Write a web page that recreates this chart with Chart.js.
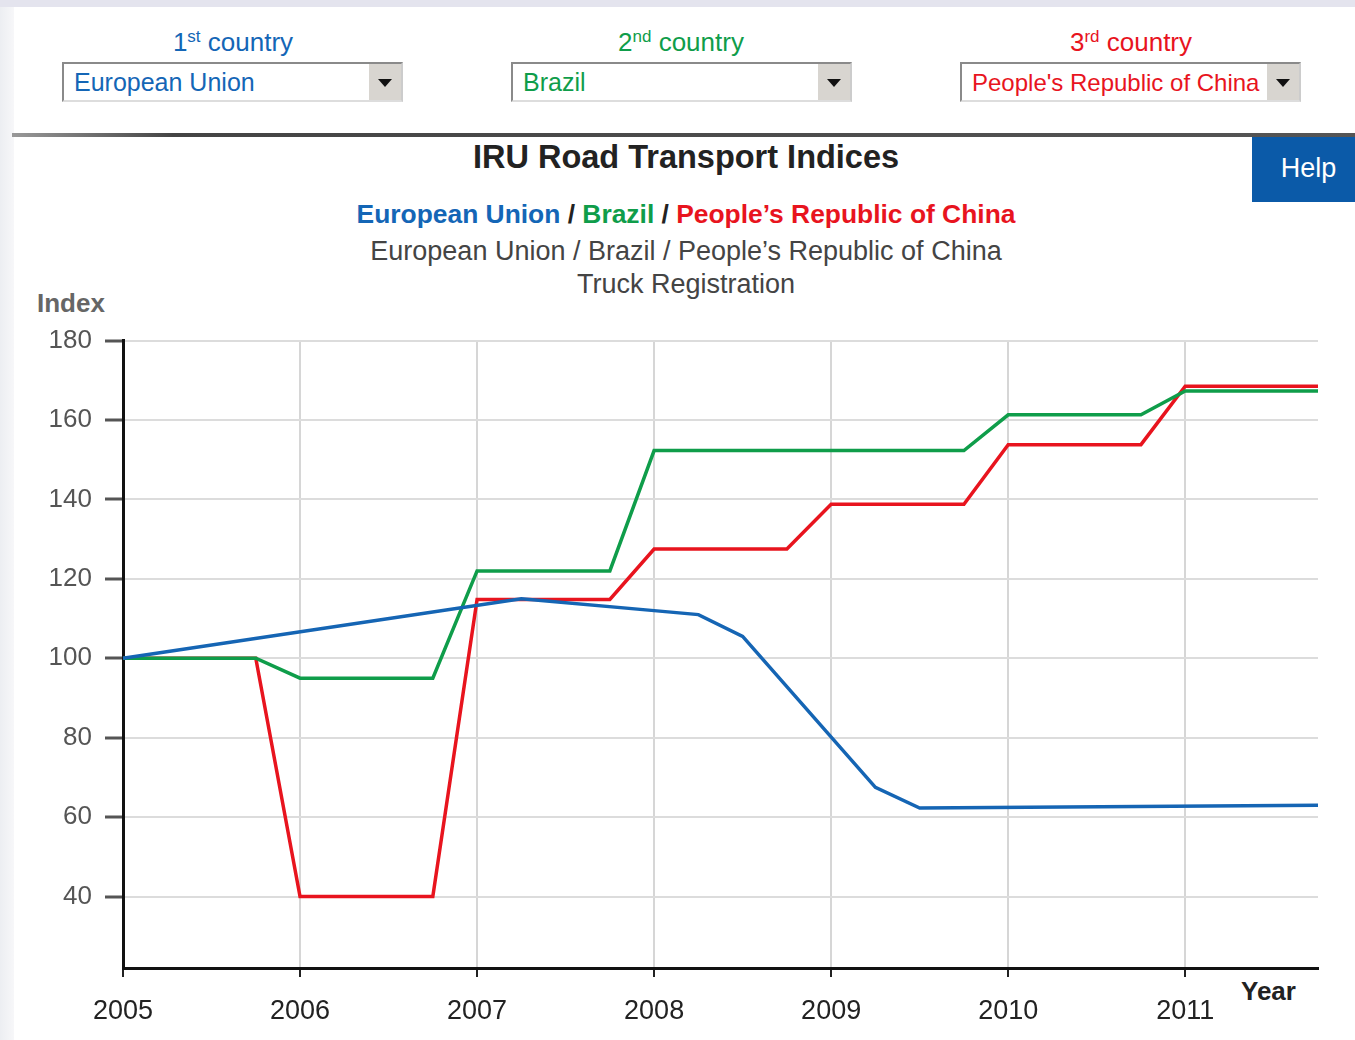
<!DOCTYPE html>
<html>
<head>
<meta charset="utf-8">
<script src="https://cdn.jsdelivr.net/npm/chart.js@4/dist/chart.umd.min.js"></script>
<style>
  body { margin: 0; width: 1355px; height: 1040px; position: relative; overflow: hidden;
         font-family: "Liberation Sans", Arial, sans-serif; background: #fff; }
  .strip { position: absolute; left: 0; top: 0; width: 1355px; height: 7px; background: #e4e4ee; }
  .side { position: absolute; left: 0; top: 7px; width: 14px; height: 1033px;
          background: linear-gradient(to right, #eceef2, #f7f7f9); }
  .sel-label { position: absolute; top: 27px; width: 340px; text-align: center; font-size: 26px; }
  .sel-label sup { font-size: 17px; vertical-align: 9px; }
  .sel { position: absolute; top: 62px; width: 337px; height: 36px; border: 2px solid #8a8a8a;
         border-right-color: #ccc; border-bottom-color: #ddd; background: #fff; font-size: 25px; }
  .sel span { position: absolute; left: 10px; top: 4px; white-space: nowrap; }
  .sel b { position: absolute; right: 0; top: 0; width: 32px; height: 36px; background: #d8d5d0; }
  .sel b:after { content: ""; position: absolute; left: 9px; top: 15px; border-left: 7px solid transparent;
                 border-right: 7px solid transparent; border-top: 8px solid #111; }
  .panel-top { position: absolute; left: 12px; top: 133px; width: 1343px; height: 4px;
               background: linear-gradient(to right, #999, #444 12%, #555); }
  .help { position: absolute; left: 1252px; top: 137px; width: 103px; height: 65px; background: #0b5aa8;
          color: #fff; font-size: 27px; line-height: 62px; text-align: center; text-indent: 10px; }
  .title { position: absolute; left: 0; width: 1372px; text-align: center; color: #222; }
  .blue { color: #1466b6; } .green { color: #0f9d4a; } .red { color: #e8141e; }
  .axis-name { position: absolute; font-weight: bold; font-size: 26px; }
  #chart { position: absolute; left: 0; top: 312px; }
</style>
</head>
<body>
<div class="strip"></div>
<div class="side"></div>

<div class="sel-label blue" style="left:63px">1<sup>st</sup> country</div>
<div class="sel" style="left:62px"><span class="blue">European Union</span><b></b></div>
<div class="sel-label green" style="left:511px">2<sup>nd</sup> country</div>
<div class="sel" style="left:511px"><span class="green">Brazil</span><b></b></div>
<div class="sel-label red" style="left:961px">3<sup>rd</sup> country</div>
<div class="sel" style="left:960px;font-size:24px"><span class="red" style="top:5px">People's Republic of China</span><b></b></div>

<div class="panel-top"></div>
<div class="help">Help</div>
<div class="title" style="top:139px;font-size:32.5px;font-weight:bold;">IRU Road Transport Indices</div>
<div class="title" style="top:199px;font-size:26.4px;font-weight:bold;">
  <span class="blue">European Union</span> / <span class="green">Brazil</span> / <span class="red">People’s Republic of China</span>
</div>
<div class="title" style="top:236px;font-size:27px;color:#444;">European Union / Brazil / People’s Republic of China</div>
<div class="title" style="top:269px;font-size:27px;color:#444;">Truck Registration</div>
<div class="axis-name" style="left:37px;top:288px;color:#666;">Index</div>
<div class="axis-name" style="left:1241px;top:976px;color:#222;">Year</div>

<canvas id="chart" width="1355" height="728"></canvas>

<script>
var quarters = [
    '2005 Q1', '2005 Q2', '2005 Q3', '2005 Q4',
    '2006 Q1', '2006 Q2', '2006 Q3', '2006 Q4',
    '2007 Q1', '2007 Q2', '2007 Q3', '2007 Q4',
    '2008 Q1', '2008 Q2', '2008 Q3', '2008 Q4',
    '2009 Q1', '2009 Q2', '2009 Q3', '2009 Q4',
    '2010 Q1', '2010 Q2', '2010 Q3', '2010 Q4',
    '2011 Q1', '2011 Q2', '2011 Q3', '2011 Q4'
];

// European Union - only some quarters reported, gaps are spanned
var euValues = [
    100, null, null, null,
    null, null, null, null,
    null, 115, null, null,
    112, 111, 105.5, null,
    null, 67.5, 62.3, null,
    null, null, null, null,
    null, null, null, 63
];

var brazilValues = [
    100, 100, 100, 100,
    95, 95, 95, 95,
    122, 122, 122, 122,
    152.3, 152.3, 152.3, 152.3,
    152.3, 152.3, 152.3, 152.3,
    161.3, 161.3, 161.3, 161.3,
    167.3, 167.3, 167.3, 167.3
];

var chinaValues = [
    100, 100, 100, 100,
    40, 40, 40, 40,
    114.8, 114.8, 114.8, 114.8,
    127.5, 127.5, 127.5, 127.5,
    138.8, 138.8, 138.8, 138.8,
    153.8, 153.8, 153.8, 153.8,
    168.5, 168.5, 168.5, 168.5
];

var yTicks = { min: 22, max: 180, step: 20 };

function isYearStart(i) {
    return i % 4 === 0;
}

function lineSet(label, values, color) {
    return {
        label: label,
        data: values,
        borderColor: color,
        backgroundColor: color,
        borderWidth: 3.5,
        pointRadius: 0,
        tension: 0,
        spanGaps: true,
        fill: false
    };
}

var chart = new Chart(document.getElementById('chart'), {
    type: 'line',
    data: {
        labels: quarters,
        datasets: [
            lineSet('European Union', euValues, '#1565b4'),
            lineSet('Brazil', brazilValues, '#0f9d4a'),
            lineSet('People\'s Republic of China', chinaValues, '#e8141e')
        ]
    },
    options: {
        responsive: false,
        animation: false,
        layout: {
            padding: { top: 20, right: 37, left: 0, bottom: 0 }
        },
        plugins: {
            legend: { display: false },
            title: { display: false },
            tooltip: { enabled: false }
        },
        scales: {
            x: {
                offset: false,
                afterFit: function (scale) { scale.height = 72; },
                grid: {
                    color: function (ctx) { return isYearStart(ctx.index) ? '#d6d6d6' : 'rgba(0,0,0,0)'; },
                    lineWidth: 2,
                    tickLength: 9,
                    tickColor: function (ctx) { return isYearStart(ctx.index) ? '#222' : 'rgba(0,0,0,0)'; },
                    tickWidth: 2
                },
                border: { color: '#111', width: 3 },
                ticks: {
                    autoSkip: false,
                    maxRotation: 0,
                    padding: 18,
                    color: '#222',
                    font: { family: '"Liberation Sans", Arial, sans-serif', size: 27 },
                    callback: function (value, i) {
                        return isYearStart(i) ? quarters[i].slice(0, 4) : '';
                    }
                }
            },
            y: {
                min: yTicks.min,
                max: yTicks.max,
                afterFit: function (scale) { scale.width = 123; },
                grid: {
                    color: '#dcdcdc',
                    lineWidth: 2,
                    tickLength: 18,
                    tickColor: '#555',
                    tickWidth: 3
                },
                border: { color: '#111', width: 3 },
                ticks: {
                    stepSize: yTicks.step,
                    includeBounds: false,
                    padding: 13,
                    color: '#555',
                    font: { family: '"Liberation Sans", Arial, sans-serif', size: 26 }
                }
            }
        }
    }
});
</script>
</body>
</html>
